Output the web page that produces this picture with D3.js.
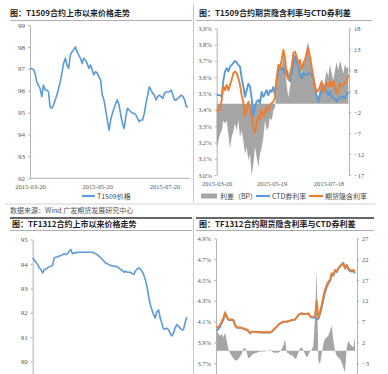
<!DOCTYPE html>
<html><head><meta charset="utf-8">
<script src="https://cdn.jsdelivr.net/npm/d3@7"></script>
<style>body{margin:0;background:#fff}svg{display:block}</style>
</head><body><svg id="c" width="388" height="374"></svg>
<script>
// ---------- DATA ----------
// Panel 1: T1509 price
const p1Price = [97.02,97.0,96.98,96.8,96.4,96.26,96.1,95.73,96.26,96.03,
96.03,95.95,95.24,95.2,95.35,95.58,95.8,96.1,96.4,96.8,
97.25,97.48,97.17,97.02,97.63,97.78,97.86,98.0,97.78,97.63,
97.48,97.25,97.48,97.4,97.25,97.02,97.17,96.95,96.72,96.87,
96.8,96.64,96.49,95.8,95.58,95.12,94.66,94.2,94.66,94.97,
95.2,95.42,95.58,95.35,94.89,94.5,94.28,94.81,95.2,95.12,
95.04,94.97,94.97,94.89,94.74,94.59,94.66,94.66,94.97,95.42,
95.8,96.18,96.03,95.88,95.8,95.58,95.73,95.8,95.73,95.65,
95.88,95.95,95.95,95.95,96.03,95.8,95.58,95.58,95.65,95.73,
95.8,95.73,95.58,95.27,95.27];
const p1Ticks = [92,93,94,95,96,97,98,99];
const p1Dates = ["2015-03-20","2015-05-20","2015-07-20"];
const p1DateIdx = [0,40,80];

// Panel 2: T1509 implied rate vs CTD
const p2Ctd = [3.49,3.49,3.49,3.48,3.58,3.635,3.655,3.635,3.665,3.675,
3.686,3.70,3.69,3.675,3.665,3.594,3.543,3.48,3.52,3.56,
3.543,3.47,3.36,3.42,3.45,3.46,3.44,3.51,3.48,3.50,
3.52,3.49,3.52,3.51,3.54,3.49,3.58,3.645,3.675,3.645,
3.655,3.625,3.645,3.605,3.575,3.625,3.675,3.727,3.696,3.665,
3.614,3.594,3.625,3.614,3.614,3.625,3.625,3.614,3.594,3.543,
3.48,3.45,3.49,3.52,3.553,3.53,3.51,3.49,3.51,3.48,
3.47,3.47,3.45,3.47,3.47,3.48,3.48,3.47,3.49,3.51];
const p2Implied = [3.40,3.39,3.41,3.46,3.543,3.52,3.553,3.52,3.553,3.584,
3.625,3.635,3.625,3.594,3.553,3.49,3.44,3.36,3.41,3.45,
3.40,3.36,3.30,3.257,3.32,3.36,3.34,3.40,3.36,3.39,
3.42,3.39,3.43,3.44,3.45,3.47,3.594,3.675,3.655,3.706,
3.767,3.716,3.614,3.584,3.625,3.665,3.747,3.757,3.727,3.686,
3.706,3.645,3.686,3.706,3.747,3.777,3.727,3.665,3.604,3.543,
3.51,3.52,3.543,3.575,3.51,3.53,3.564,3.543,3.575,3.543,
3.575,3.543,3.50,3.52,3.564,3.543,3.553,3.564,3.575,3.614];
const p2Spread = [-10.3,-8.8,-7.2,-6.4,-4,-4.8,-4,-7.2,-10.7,-8,
-6.4,-4.8,-6.4,-4,-8,-6.4,-8.8,-12,-10.3,-13.5,
-12,-17.1,-14.3,-10.3,-12.7,-15.1,-12,-10.3,-8,-4,
-6.4,-5.6,-3.2,-4,-1.6,-0.8,3.2,8,9.1,8,
11.9,9.5,4.4,1.6,4,7.2,11.1,11.9,10.3,8.8,
10.3,7.2,9.5,11.1,13.5,14.7,11.9,8.8,7.2,4.4,
2.4,1.6,4,5.6,2.8,5.6,8,6.4,9.5,7.2,
5.6,8,9.9,8,10.3,8.8,7.2,9.5,8.4,8.8];
const p2LeftTicks = [3.0,3.1,3.2,3.3,3.4,3.5,3.6,3.7,3.8,3.9];
const p2RightTicks = [-17,-12,-7,-2,3,8,13,18];
const p2Dates = ["2015-03-20","2015-05-19","2015-07-18"];
const p2DateIdx = [0,33,67];

// Panel 3: TF1312 price
const p3Price = [94.25,94.15,94.07,93.97,93.84,93.77,93.63,93.77,93.79,93.84,
93.88,93.9,93.93,94.25,94.27,94.29,94.32,94.34,94.37,94.42,
94.38,94.42,94.52,94.59,94.42,94.45,94.45,94.48,94.48,94.48,
94.48,94.48,94.48,94.48,94.48,94.48,94.48,94.45,94.42,94.38,
94.32,94.25,94.18,94.11,94.04,94.01,93.97,93.93,93.93,93.9,
93.9,93.88,93.84,93.77,93.74,93.66,93.7,93.66,93.66,93.66,
93.6,93.56,93.7,93.79,93.84,93.79,93.7,93.56,93.36,93.08,
92.67,92.33,92.12,91.92,91.78,92.05,92.12,91.78,91.58,91.33,
91.33,91.37,91.3,91.16,91.05,91.16,91.37,91.51,91.45,91.37,
91.3,91.3,91.58,91.82];
const p3Ticks = [90,91,92,93,94,95];

// Panel 4: TF1312 implied rate vs CTD
const p4Implied = [4.04,4.052,4.068,4.10,4.132,4.19,4.15,4.122,4.116,4.122,
4.116,4.068,4.046,4.042,4.046,4.036,4.036,4.026,4.026,4.01,
3.988,4.004,4.004,4.004,4.0,4.0,4.0,3.998,3.998,3.998,
3.998,3.998,3.998,4.004,4.02,4.036,4.052,4.068,4.084,4.09,
4.10,4.10,4.10,4.106,4.11,4.116,4.116,4.122,4.142,4.164,
4.174,4.18,4.174,4.174,4.174,4.18,4.154,4.142,4.142,4.164,
4.30,4.132,4.196,4.26,4.34,4.404,4.452,4.484,4.50,4.564,
4.548,4.596,4.58,4.612,4.628,4.644,4.66,4.612,4.644,4.612,
4.596,4.59,4.596,4.58];
const p4Ctd = [4.012,4.03,4.05,4.085,4.12,4.176,4.142,4.118,4.112,4.118,
4.112,4.066,4.044,4.04,4.044,4.034,4.034,4.024,4.024,4.008,
3.986,4.002,4.002,4.002,3.998,3.998,3.998,3.996,3.996,3.996,
3.996,3.996,3.996,4.002,4.018,4.034,4.05,4.066,4.082,4.088,
4.098,4.098,4.098,4.104,4.108,4.114,4.114,4.12,4.14,4.162,
4.172,4.178,4.172,4.172,4.172,4.178,4.152,4.14,4.138,4.14,
4.12,4.125,4.17,4.235,4.31,4.38,4.43,4.468,4.488,4.55,
4.54,4.59,4.575,4.61,4.63,4.65,4.665,4.61,4.64,4.6,
4.585,4.58,4.585,4.565];
const p4Spread = [4.8,4,3.6,4,3.2,4.4,2.4,0.4,-0.6,-1.2,
-1.8,-2.2,-2.4,-2,-1.4,-0.8,0.4,0.8,-0.4,-1.8,
-1.6,-1,-0.8,-0.6,-0.5,-0.3,-0.2,-0.2,-0.2,-0.2,
0,-0.2,0.3,-0.2,-0.4,-0.5,-0.4,-0.5,-0.2,0.4,
1.2,2.8,-0.4,-0.6,-1,-1,-1.4,-2,-1.6,-0.4,
0.6,0.8,0.2,-0.8,-1.6,-1,-0.2,0.2,1.2,8,
19.5,-2.4,-3.2,-0.8,1.6,2.8,3.2,3.6,4.8,6,
2.4,0,-1.2,-1.6,-2,-2.8,-4,-5.2,0.8,2.4,
1.6,1.2,0.8,3.2];
const p4LeftTicks = [3.7,3.9,4.1,4.3,4.5,4.7,4.9];
const p4RightTicks = [-3,2,7,12,17,22,27];

const titles = ["图：T1509合约上市以来价格走势","图：T1509合约期货隐含利率与CTD券利差",
                "图：TF1312合约上市以来价格走势","图：TF1312合约期货隐含利率与CTD券利差"];
const sourceText = "数据来源：Wind 广发期货发展研究中心";
const legend1 = ["T1509价格"];
const legend2 = ["利差（BP）","CTD券利率","期货隐含利率"];

// ---------- STYLE ----------
const BLUE = "#5b9bd5", ORANGE = "#ed7d31", GRAY = "#a5a5a5";
const NUM_FONT = "'Liberation Serif','DejaVu Serif',serif";
const CJK_FONT = "'Noto Sans CJK SC','Noto Sans',sans-serif";
const svg = d3.select("#c");
svg.append("rect").attr("width",388).attr("height",374).attr("fill","#fff");

function styleAxis(g, size){
  g.selectAll(".domain").attr("stroke","#a0a0a0").attr("stroke-width",0.8);
  g.selectAll(".tick line").attr("stroke","#a0a0a0").attr("stroke-width",0.8);
  g.selectAll(".tick text").attr("fill","#555").style("font-family",NUM_FONT).style("font-size",(size||7)+"px");
}
function text(x,y,t,opt){
  opt = opt||{};
  return svg.append("text").attr("x",x).attr("y",y).text(t)
    .attr("fill",opt.fill||"#222").attr("text-anchor",opt.anchor||"start")
    .style("font-family",opt.font||CJK_FONT).style("font-size",(opt.size||7)+"px")
    .style("font-weight",opt.weight||"normal");
}

// frame lines
function hline(x1,x2,y,col,w){svg.append("line").attr("x1",x1).attr("x2",x2).attr("y1",y).attr("y2",y).attr("stroke",col).attr("stroke-width",w);}
function vline(x,y1,y2,col,w){svg.append("line").attr("x1",x).attr("x2",x).attr("y1",y1).attr("y2",y2).attr("stroke",col).attr("stroke-width",w);}
hline(10,192,20.5,"#9a9a9a",0.8); hline(196,372,20.5,"#9a9a9a",0.8);
vline(193.5,4,202,"#b5b5b5",0.8);
hline(5,376,204,"#c8c8c8",0.8);
hline(10,192,218,"#333",1.4); hline(196,374,218,"#333",1.4);
hline(10,192,230.5,"#9a9a9a",0.8); hline(196,374,230.5,"#9a9a9a",0.8);
vline(193.5,218,374,"#b5b5b5",0.8);

text(10,16,titles[0],{weight:"bold",size:8});
text(199,16,titles[1],{weight:"bold",size:8});
text(12,227,titles[2],{weight:"bold",size:8});
text(199,227,titles[3],{weight:"bold",size:8});
text(10,213,sourceText,{size:7,fill:"#555"});

// ---------- PANEL 1 ----------
{
  const x = d3.scaleLinear().domain([0,p1Price.length-1]).range([30,188]);
  const y = d3.scaleLinear().domain([92,99]).range([178.3,25]);
  const ga = svg.append("g").attr("transform","translate(30,0)")
    .call(d3.axisLeft(y).tickValues(p1Ticks).tickSize(2).tickSizeOuter(0).tickFormat(d3.format("d")));
  styleAxis(ga);
  ga.selectAll(".tick text").attr("dy","0.3em");
  const gb = svg.append("g").attr("transform","translate(0,178.3)")
    .call(d3.axisBottom(x).tickValues(p1DateIdx).tickSize(0).tickPadding(6).tickFormat((d,i)=>p1Dates[i]));
  gb.select(".domain").attr("d","M30,0H190");
  styleAxis(gb,6.5);
  svg.append("path").datum(p1Price)
    .attr("d",d3.line().x((d,i)=>x(i)).y(d=>y(d)))
    .attr("fill","none").attr("stroke",BLUE).attr("stroke-width",1.6).attr("stroke-linejoin","round");
  hline(82,95,196,BLUE,2.2);
  text(97,198.5,legend1[0],{size:7,fill:"#444"});
}

// ---------- PANEL 2 ----------
{
  const x = d3.scaleLinear().domain([0,p2Ctd.length-1]).range([216.7,348.3]);
  const yL = d3.scaleLinear().domain([3.0,3.9]).range([175,28.3]);
  const yR = d3.scaleLinear().domain([-17,18]).range([175,28.3]);
  svg.append("path").datum(p2Spread)
    .attr("d",d3.area().x((d,i)=>x(i)).y0(yR(0)).y1(d=>yR(d)))
    .attr("fill",GRAY);
  const gl = svg.append("g").attr("transform","translate(216.7,0)")
    .call(d3.axisLeft(yL).tickValues(p2LeftTicks).tickSize(2).tickSizeOuter(0).tickFormat(d=>d.toFixed(1)+"%"));
  styleAxis(gl,6.5);
  const gr = svg.append("g").attr("transform","translate(349,0)")
    .call(d3.axisRight(yR).tickValues(p2RightTicks).tickSize(2).tickSizeOuter(0).tickFormat(d3.format("d")));
  styleAxis(gr,6.5);
  const gb = svg.append("g").attr("transform","translate(0,175)")
    .call(d3.axisBottom(x).tickValues(p2DateIdx).tickSize(0).tickPadding(6).tickFormat((d,i)=>p2Dates[i]));
  gb.select(".domain").remove();
  styleAxis(gb,6.5);
  const line = d3.line().x((d,i)=>x(i)).y(d=>yL(d));
  svg.append("path").datum(p2Ctd).attr("d",line).attr("fill","none").attr("stroke",BLUE).attr("stroke-width",1.9).attr("stroke-linejoin","round");
  svg.append("path").datum(p2Implied).attr("d",line).attr("fill","none").attr("stroke",ORANGE).attr("stroke-width",1.9).attr("stroke-linejoin","round");
  svg.append("rect").attr("x",201).attr("y",193.5).attr("width",16).attr("height",5).attr("fill",GRAY);
  text(220,198.5,legend2[0],{size:7,fill:"#444"});
  hline(256,270,196,BLUE,2.2);
  text(272,198.5,legend2[1],{size:7,fill:"#444"});
  hline(309,323,196,ORANGE,2.2);
  text(325,198.5,legend2[2],{size:7,fill:"#444"});
}

// ---------- PANEL 3 ----------
{
  const x = d3.scaleLinear().domain([0,p3Price.length-1]).range([32.7,186.7]);
  const y = d3.scaleLinear().domain([89.5,95]).range([373.7,239.5]);
  const ga = svg.append("g").attr("transform","translate(32.7,0)")
    .call(d3.axisLeft(y).tickValues(p3Ticks).tickSize(2).tickSizeOuter(0).tickFormat(d3.format("d")));
  styleAxis(ga);
  svg.append("path").datum(p3Price)
    .attr("d",d3.line().x((d,i)=>x(i)).y(d=>y(d)))
    .attr("fill","none").attr("stroke",BLUE).attr("stroke-width",1.6).attr("stroke-linejoin","round");
}

// ---------- PANEL 4 ----------
{
  const x = d3.scaleLinear().domain([0,p4Implied.length-1]).range([216.7,355]);
  const yL = d3.scaleLinear().domain([3.6,4.9]).range([373.7,238.3]);
  const yR = d3.scaleLinear().domain([-5.5,27]).range([373.7,238.3]);
  svg.append("path").datum(p4Spread)
    .attr("d",d3.area().x((d,i)=>x(i)).y0(yR(0)).y1(d=>yR(d)))
    .attr("fill",GRAY);
  const gl = svg.append("g").attr("transform","translate(216,0)")
    .call(d3.axisLeft(yL).tickValues(p4LeftTicks).tickSize(2).tickSizeOuter(0).tickFormat(d=>d.toFixed(1)+"%"));
  styleAxis(gl,6.5);
  const gr = svg.append("g").attr("transform","translate(357,0)")
    .call(d3.axisRight(yR).tickValues(p4RightTicks).tickSize(2).tickSizeOuter(0).tickFormat(d3.format("d")));
  styleAxis(gr,6.5);
  const line = d3.line().x((d,i)=>x(i)).y(d=>yL(d));
  svg.append("path").datum(p4Ctd).attr("d",line).attr("fill","none").attr("stroke",BLUE).attr("stroke-width",1.9).attr("stroke-linejoin","round");
  svg.append("path").datum(p4Implied).attr("d",line).attr("fill","none").attr("stroke",ORANGE).attr("stroke-width",1.9).attr("stroke-linejoin","round");
}
</script></body></html>
